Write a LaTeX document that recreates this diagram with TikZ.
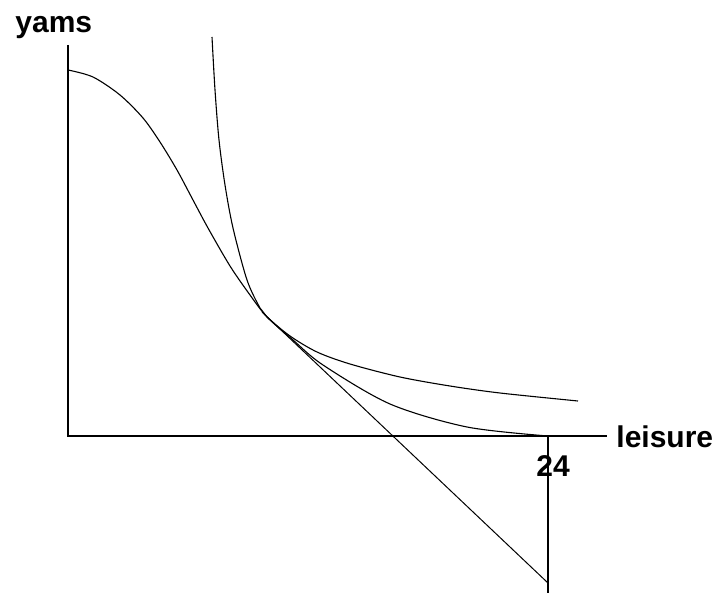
\documentclass[tikz,border=0pt]{standalone}
\usepackage{fontspec}
\setmainfont{Liberation Sans}
\begin{document}
\begin{tikzpicture}[
			x=0.5pt, y=-0.5pt,
			curve/.style={line width=0.55pt, smooth, tension=0.5},
			axislabel/.style={font=\bfseries\fontsize{15}{18}\selectfont, inner sep=0pt},
			axis/.style={line width=0.6pt}
		]
			\useasboundingbox (0,0) rectangle (717,593);

			% axes
			\coordinate (O) at (68,436);
			\coordinate (ytop) at (68,45);
			\coordinate (xend) at (607,436);
			\coordinate (d24) at (548,436);
			\coordinate (dbot) at (548,593);
			\draw[axis] (ytop) -- (O) -- (xend);
			\draw[axis] (d24) -- (dbot);
			\node[axislabel, anchor=base west] (yams) at (15,33) {yams};
			\node[axislabel, anchor=base west] (leisure) at (616,447) {leisure};
			\node[axislabel, anchor=base] (n24) at (553,476) {24};

			% production possibility frontier
			\draw[curve] plot coordinates {
				(68,70) (93,77) (120,95) (143,118) (160,142) (177,170)
				(193,200) (208,228) (230,266) (250,295) (267,317) (293,340)
				(323,365) (390,404) (467,427) (548,436)};

			% indifference curve
			\draw[curve] plot coordinates {
				(212,37) (215,90) (219,140) (225,185) (233,228) (247,280)
				(260,308) (267,317) (290,336) (317,352) (350,364) (400,377)
				(450,386) (500,393) (578,401)};

			% tangent (budget) line
			\coordinate (tanA) at (262,312);
			\coordinate (tanB) at (548,583);
			\draw[line width=0.5pt] (tanA) -- (tanB);
		\end{tikzpicture}
\end{document}
